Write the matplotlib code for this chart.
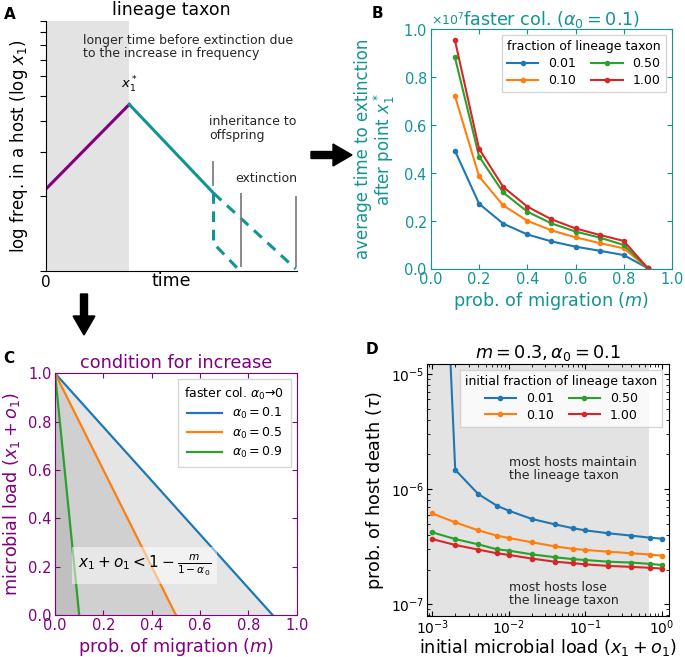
import numpy as np
import matplotlib.pyplot as plt
from matplotlib.ticker import NullFormatter, ScalarFormatter
from matplotlib.patches import FancyArrow

TEAL = '#139494'
PURPLE = '#800080'
C4 = ['tab:blue', 'tab:orange', 'tab:green', 'tab:red']

# --- data -------------------------------------------------------------
# A: schematic (log frequency vs time)
a_rise_t = [0.0, 0.332]
a_rise_y = [2.13, 4.64]
a_fall_t = [0.332, 0.668]
a_fall_y = [4.64, 2.05]
a_dash1_t = [0.668, 0.996]
a_dash1_y = [2.05, 1.02]
a_dash2_t = [0.668, 0.668, 0.774]
a_dash2_y = [2.05, 1.29, 1.0]
a_marks_t = [0.665, 0.777, 0.996]
a_marks_lo = [2.18, 1.04, 1.04]
a_marks_hi = [2.76, 2.05, 2.0]

# B: average time to extinction
fractions = ['0.01', '0.10', '0.50', '1.00']
m_vals = [0.1, 0.2, 0.3, 0.4, 0.5, 0.6, 0.7, 0.8, 0.9]
t_ext = [
    [0.493, 0.272, 0.189, 0.144, 0.115, 0.093, 0.076, 0.058, 0.003],
    [0.721, 0.386, 0.265, 0.201, 0.161, 0.132, 0.108, 0.086, 0.003],
    [0.882, 0.469, 0.319, 0.239, 0.190, 0.156, 0.131, 0.100, 0.003],
    [0.953, 0.501, 0.342, 0.260, 0.207, 0.169, 0.142, 0.117, 0.003],
]

# C: condition for increase
alphas = [0.1, 0.5, 0.9]

# D: prob. of host death
load = [1e-3, 2e-3, 4e-3, 7e-3, 1e-2, 2e-2, 4e-2, 7e-2, 1e-1, 2e-1, 4e-1, 7e-1, 1.0]
tau = [
    [5e-2, 1.47e-6, 9.05e-7, 7.17e-7, 6.49e-7, 5.50e-7, 4.94e-7, 4.56e-7, 4.38e-7, 4.13e-7, 3.94e-7, 3.78e-7, 3.71e-7],
    [6.15e-7, 5.14e-7, 4.38e-7, 3.94e-7, 3.76e-7, 3.45e-7, 3.18e-7, 3.02e-7, 2.96e-7, 2.86e-7, 2.77e-7, 2.70e-7, 2.64e-7],
    [4.21e-7, 3.68e-7, 3.31e-7, 3.00e-7, 2.92e-7, 2.71e-7, 2.56e-7, 2.46e-7, 2.42e-7, 2.34e-7, 2.30e-7, 2.24e-7, 2.19e-7],
    [3.68e-7, 3.27e-7, 2.98e-7, 2.77e-7, 2.68e-7, 2.49e-7, 2.34e-7, 2.27e-7, 2.22e-7, 2.15e-7, 2.11e-7, 2.07e-7, 2.04e-7],
]
d_shade_end = 0.67

fig = plt.figure(figsize=(6.85, 6.57), dpi=100)

# --- A ----------------------------------------------------------------
axA = fig.add_axes([0.0672, 0.5875, 0.366, 0.3805])
axA.axvspan(0, a_rise_t[1], color='0.89', lw=0)
axA.plot(a_rise_t, a_rise_y, color=PURPLE, lw=2.2)
axA.plot(a_fall_t, a_fall_y, color=TEAL, lw=2.2)
axA.plot(a_dash1_t, a_dash1_y, color=TEAL, lw=2.2, ls=(0, (3.5, 2.5)))
axA.plot(a_dash2_t, a_dash2_y, color=TEAL, lw=2.2, ls=(0, (3.5, 2.5)))
axA.vlines(a_marks_t, a_marks_lo, a_marks_hi, color='gray', lw=1.3)
axA.set_yscale('log')
axA.set_ylim(1, 10)
axA.set_xlim(0, 1)
axA.yaxis.set_major_formatter(NullFormatter())
axA.yaxis.set_minor_formatter(NullFormatter())
axA.tick_params(axis='y', which='both', direction='out', length=4, width=0.8)
axA.set_xticks([0])
axA.set_xticklabels(['0'], fontsize=11)
axA.tick_params(axis='x', length=0, pad=3)
for s in ['top', 'right']:
    axA.spines[s].set_visible(False)
axA.set_xlabel('time', fontsize=12.5, labelpad=-13)
axA.set_ylabel('log freq. in a host (log $x_1$)', fontsize=12)
axA.set_title('lineage taxon', fontsize=12.5, pad=4)
axA.text(a_rise_t[1], 5.05, '$x_1^*$', ha='center', va='bottom', fontsize=9.5)
axA.text(0.147, 8.9, 'longer time before extinction due\nto the increase in frequency',
         fontsize=9, va='top', color='0.15', linespacing=1.05)
axA.text(0.652, 4.2, 'inheritance to\noffspring', fontsize=9, va='top', color='0.15', linespacing=1.05)
axA.text(0.755, 2.2, 'extinction', fontsize=9, va='bottom', color='0.15')

# --- B ----------------------------------------------------------------
axB = fig.add_axes([0.629, 0.5906, 0.352, 0.365])
for i, f in enumerate(fractions):
    axB.plot(m_vals, np.array(t_ext[i]) * 1e7, '-o', color=C4[i], ms=3, lw=1.5, label=f)
axB.set_xlim(0, 1)
axB.set_ylim(0, 1e7)
axB.set_xticks([0, 0.2, 0.4, 0.6, 0.8, 1.0])
axB.set_yticks([0, 0.2e7, 0.4e7, 0.6e7, 0.8e7, 1e7])
fmt = ScalarFormatter(useMathText=True)
fmt.set_powerlimits((0, 0))
axB.yaxis.set_major_formatter(fmt)
axB.yaxis.get_offset_text().set_color(TEAL)
axB.yaxis.get_offset_text().set_fontsize(9)
axB.tick_params(direction='in', top=True, right=True, colors=TEAL, labelsize=10.5, length=3.5, pad=2.5)
for s in axB.spines.values():
    s.set_color(TEAL)
axB.set_xlabel('prob. of migration ($m$)', color=TEAL, fontsize=12.7, labelpad=2)
axB.set_ylabel('average time to extinction\nafter point $x_1^*$', color=TEAL, fontsize=12, linespacing=1.0)
axB.set_title(r'faster col. ($\alpha_0 = 0.1$)', color=TEAL, fontsize=12.7, y=1.0, pad=3)
axB.legend(title='fraction of lineage taxon', ncol=2, loc='upper right', fontsize=9,
           title_fontsize=9, handlelength=2.5, columnspacing=1.2, borderpad=0.4,
           labelspacing=0.3, fancybox=False, edgecolor='0.8')

# --- C ----------------------------------------------------------------
axC = fig.add_axes([0.0803, 0.0639, 0.353, 0.368])
mm = np.linspace(0, 1, 201)
for i, a in enumerate(alphas):
    yy = 1 - mm / (1 - a)
    axC.fill_between(mm, 0, np.clip(yy, 0, 1), where=yy >= 0, color='gray', alpha=0.2, lw=0)
for i, a in enumerate(alphas):
    mx = np.linspace(0, 1 - a, 50)
    axC.plot(mx, 1 - mx / (1 - a), color=C4[i], lw=1.6, label=r'$\alpha_0 = %g$' % a)
axC.set_xlim(0, 1)
axC.set_ylim(0, 1)
axC.set_xticks([0, 0.2, 0.4, 0.6, 0.8, 1.0])
axC.set_yticks([0, 0.2, 0.4, 0.6, 0.8, 1.0])
axC.tick_params(direction='in', top=True, right=True, colors=PURPLE, labelsize=10.5, length=3.5, pad=2.5)
for s in axC.spines.values():
    s.set_color(PURPLE)
axC.set_xlabel('prob. of migration ($m$)', color=PURPLE, fontsize=12.7, labelpad=2)
axC.set_ylabel('microbial load ($x_1 + o_1$)', color=PURPLE, fontsize=12.7)
axC.set_title('condition for increase', color=PURPLE, fontsize=12.7, pad=4)
axC.text(0.37, 0.205, r'$x_1 + o_1 < 1 - \frac{m}{1-\alpha_0}$', ha='center', va='center', fontsize=11,
         bbox=dict(facecolor='white', alpha=0.5, edgecolor='none', pad=4))
axC.legend(title=r'faster col. $\alpha_0$→0', loc='upper right', fontsize=9, title_fontsize=9,
           handlelength=2.8, borderpad=0.5, labelspacing=0.35, fancybox=False, edgecolor='0.8')

# --- D ----------------------------------------------------------------
axD = fig.add_axes([0.623, 0.0624, 0.353, 0.3836])
axD.axvspan(5e-4, d_shade_end, color='0.89', lw=0)
for i, f in enumerate(fractions):
    axD.plot(load, tau[i], '-o', color=C4[i], ms=3, lw=1.5, label=f)
axD.set_xscale('log')
axD.set_yscale('log')
axD.set_xlim(8.5e-4, 1.22)
axD.set_ylim(7.9e-8, 1.22e-5)
axD.tick_params(which='both', direction='in', top=True, right=True, labelsize=10, pad=1.5)
axD.tick_params(which='major', length=3.5)
axD.tick_params(which='minor', length=2)
axD.set_xlabel('initial microbial load ($x_1 + o_1$)', fontsize=12.7, labelpad=0)
axD.set_ylabel(r'prob. of host death ($\tau$)', fontsize=12.7)
axD.set_title(r'$m = 0.3, \alpha_0 = 0.1$', fontsize=12.7, pad=4)
axD.text(1.0e-2, 1.95e-6, 'most hosts maintain\nthe lineage taxon', fontsize=9, va='top', color='0.15', linespacing=1.05)
axD.text(1.0e-2, 1.6e-7, 'most hosts lose\nthe lineage taxon', fontsize=9, va='top', color='0.15', linespacing=1.05)
axD.legend(title='initial fraction of lineage taxon', ncol=2, loc='upper right', fontsize=9,
           title_fontsize=9, handlelength=2.5, columnspacing=1.2, borderpad=0.4,
           labelspacing=0.3, fancybox=False, edgecolor='0.8')

# --- arrows and panel letters ----------------------------------------
fig.patches.append(FancyArrow(311 / 685, 1 - 155 / 657, 41 / 685, 0, width=7 / 657,
                              head_width=22 / 657, head_length=19 / 685, length_includes_head=True,
                              color='black', transform=fig.transFigure, figure=fig))
fig.patches.append(FancyArrow(84 / 685, 1 - 294 / 657, 0, -41 / 657, width=7 / 685,
                              head_width=22 / 685, head_length=19 / 657, length_includes_head=True,
                              color='black', transform=fig.transFigure, figure=fig))
fig.text(0.005, 0.99, 'A', fontsize=11, fontweight='bold', va='top')
fig.text(372 / 685, 1 - 6 / 657, 'B', fontsize=11, fontweight='bold', va='top')
fig.text(0.005, 1 - 351 / 657, 'C', fontsize=11, fontweight='bold', va='top')
fig.text(366 / 685, 1 - 342 / 657, 'D', fontsize=11, fontweight='bold', va='top')

fig.savefig('out.png', dpi=100)
